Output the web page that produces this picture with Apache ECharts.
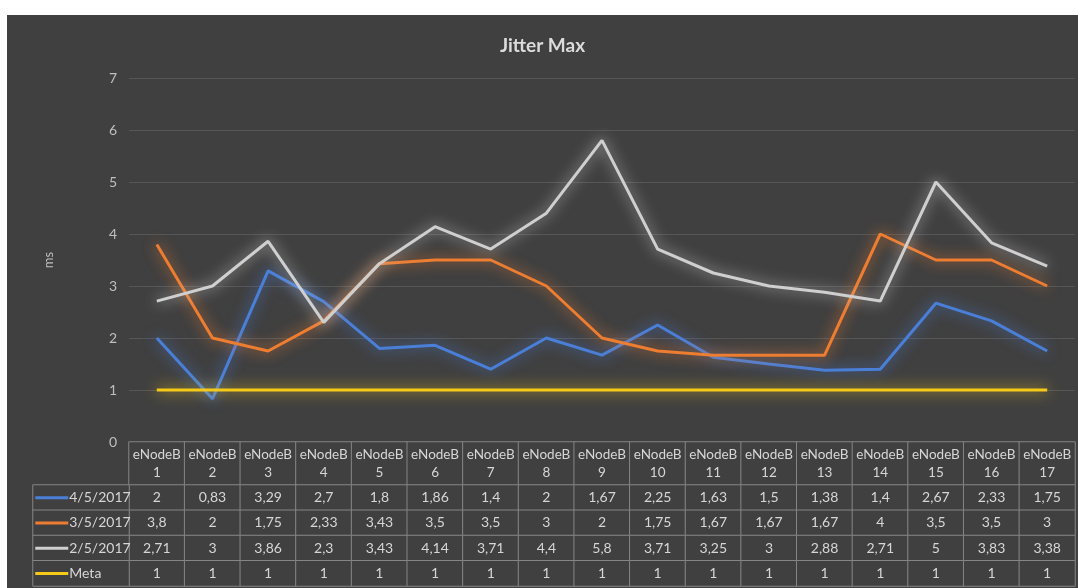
<!DOCTYPE html>
<html>
<head>
<meta charset="utf-8">
<script src="https://cdn.jsdelivr.net/npm/echarts@6/dist/echarts.min.js"></script>
<style>
  html, body { margin: 0; padding: 0; background: #fff; }
  #chart {
    position: absolute;
    left: 7px;
    top: 15px;
    width: 1071px;
    height: 573px;
    background: #404040;
  }
</style>
</head>
<body>
<div id="chart"></div>
<script>
// categorias (cabecera de la tabla)
var categories = [
  "eNodeB\n1", "eNodeB\n2", "eNodeB\n3", "eNodeB\n4", "eNodeB\n5", "eNodeB\n6",
  "eNodeB\n7", "eNodeB\n8", "eNodeB\n9", "eNodeB\n10", "eNodeB\n11", "eNodeB\n12",
  "eNodeB\n13", "eNodeB\n14", "eNodeB\n15", "eNodeB\n16", "eNodeB\n17"
];
var seriesNames = ["4/5/2017", "3/5/2017", "2/5/2017", "Meta"];
var colors = ["#4a7fd8", "#ed7d31", "#cfcfcf", "#f5c918"];
var yTicks = [0, 7, 1]; // min, max, intervalo

var d4_5 = [2, 0.83, 3.29, 2.7, 1.8, 1.86, 1.4, 2, 1.67, 2.25, 1.63, 1.5, 1.38, 1.4, 2.67, 2.33, 1.75];
var d3_5 = [3.8, 2, 1.75, 2.33, 3.43, 3.5, 3.5, 3, 2, 1.75, 1.67, 1.67, 1.67, 4, 3.5, 3.5, 3];
var d2_5 = [2.71, 3, 3.86, 2.3, 3.43, 4.14, 3.71, 4.4, 5.8, 3.71, 3.25, 3, 2.88, 2.71, 5, 3.83, 3.38];
var meta = [1, 1, 1, 1, 1, 1, 1, 1, 1, 1, 1, 1, 1, 1, 1, 1, 1];

var allData = [d4_5, d3_5, d2_5, meta];

var textColor = "#d6d6d6";
var borderColor = "#858585";
var font = "Lato, 'Open Sans', sans-serif";

// celdas de la tabla
var headerCells = [];
var valueCells = [];
var legendCells = [];
categories.forEach(function (c, i) {
  headerCells.push([i, 0, 0]);
});
allData.forEach(function (arr, r) {
  arr.forEach(function (v, i) {
    valueCells.push([i, r, v]);
  });
  legendCells.push([0, r, 0]);
});

var rich = { t: { color: textColor, fontSize: 14, fontFamily: font, padding: [0, 0, 0, 1] } };
colors.forEach(function (c, i) {
  rich["k" + i] = { backgroundColor: c, width: 33, height: 3 };
});

var cellStyle = { color: "#404040", borderColor: borderColor, borderWidth: 1 };

var myChart = echarts.init(document.getElementById("chart"));
var option = {
  animation: false,
  title: {
    text: "Jitter Max",
    left: "center",
    top: 16,
    textStyle: {
      color: "#dcdcdc",
      fontSize: 19,
      fontWeight: "bold",
      fontFamily: "Lato, sans-serif"
    }
  },
  grid: [
    { left: 122, right: 3, top: 63, height: 364 },   // grafico
    { left: 122, right: 3, top: 427, height: 43 },   // cabecera
    { left: 122, right: 3, top: 470, height: 101 },  // valores
    { left: 26, width: 96, top: 470, height: 101 }   // leyenda
  ],
  xAxis: [
    {
      type: "category",
      gridIndex: 0,
      data: categories,
      boundaryGap: true,
      axisLine: { show: false },
      axisTick: { show: false },
      axisLabel: { show: false }
    },
    { type: "category", gridIndex: 1, data: categories, show: false },
    { type: "category", gridIndex: 2, data: categories, show: false },
    { type: "category", gridIndex: 3, data: ["x"], show: false }
  ],
  yAxis: [
    {
      type: "value",
      gridIndex: 0,
      min: yTicks[0],
      max: yTicks[1],
      interval: yTicks[2],
      name: "ms",
      nameLocation: "middle",
      nameRotate: 90,
      nameGap: 74,
      nameTextStyle: { color: "#bfbfbf", fontSize: 13, fontFamily: font },
      axisLine: { show: false },
      axisTick: { show: false },
      axisLabel: { color: "#bfbfbf", fontSize: 14, margin: 12, fontFamily: font },
      splitLine: { lineStyle: { color: "#565656", width: 1 } }
    },
    { type: "category", gridIndex: 1, data: ["h"], show: false },
    { type: "category", gridIndex: 2, data: seriesNames, inverse: true, show: false },
    { type: "category", gridIndex: 3, data: seriesNames, inverse: true, show: false }
  ],
  series: allData.map(function (arr, i) {
    return {
      name: seriesNames[i],
      type: "line",
      xAxisIndex: 0,
      yAxisIndex: 0,
      data: arr,
      symbol: "none",
      z: 3 + i,
      lineStyle: {
        color: colors[i],
        width: 3,
        shadowColor: colors[i],
        shadowBlur: 14
      }
    };
  }).concat([
    {
      type: "heatmap",
      xAxisIndex: 1,
      yAxisIndex: 1,
      data: headerCells,
      silent: true,
      itemStyle: cellStyle,
      label: {
        show: true,
        color: textColor,
        fontSize: 13.5,
        lineHeight: 18,
        fontFamily: font,
        formatter: function (p) { return categories[p.value[0]]; }
      },
      emphasis: { disabled: true }
    },
    {
      type: "heatmap",
      xAxisIndex: 2,
      yAxisIndex: 2,
      data: valueCells,
      silent: true,
      itemStyle: cellStyle,
      label: {
        show: true,
        color: textColor,
        fontSize: 14,
        fontFamily: font,
        formatter: function (p) { return String(p.value[2]).replace(".", ","); }
      },
      emphasis: { disabled: true }
    },
    {
      type: "heatmap",
      xAxisIndex: 3,
      yAxisIndex: 3,
      data: legendCells,
      silent: true,
      itemStyle: cellStyle,
      label: {
        show: true,
        position: "insideLeft",
        distance: 3,
        rich: rich,
        formatter: function (p) {
          var r = p.value[1];
          return "{k" + r + "|}{t|" + seriesNames[r] + "}";
        }
      },
      emphasis: { disabled: true }
    }
  ])
};
myChart.setOption(option);
</script>
</body>
</html>
